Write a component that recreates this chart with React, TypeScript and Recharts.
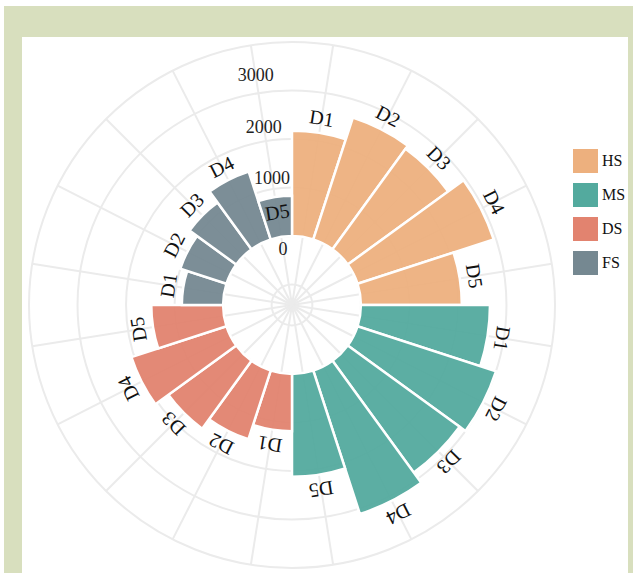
import { RadialBarChart, RadialBar, PolarGrid, PolarAngleAxis, PolarRadiusAxis, Cell, Sector } from "recharts";

const groups = ["HS", "MS", "DS", "FS"];
const dims = ["D1", "D2", "D3", "D4", "D5"];
const hsValues = [2170, 2640, 2560, 2950, 2080];
const msValues = [2660, 3000, 2850, 3110, 2120];
const dsValues = [1180, 1490, 1730, 2060, 1480];
const fsValues = [850, 1000, 1190, 1470, 830];
const radiusTicks = [-1000, 0, 1000, 2000, 3000, 4000];
const shownTicks = [0, 1000, 2000, 3000];

const colors: Record<string, string> = {
  HS: "#EDB07E",
  MS: "#53AA9E",
  DS: "#E2836F",
  FS: "#758891",
};

const valuesByGroup: Record<string, number[]> = { HS: hsValues, MS: msValues, DS: dsValues, FS: fsValues };

const data = groups.flatMap((g) =>
  dims.map((d, i) => ({ id: `${g}-${d}`, group: g, dim: d, value: valuesByGroup[g][i] }))
);

// labels that sit inside their bar instead of beyond the tip
const insideLabels = ["FS-D5"];

const FONT = "'Liberation Serif', 'Times New Roman', serif";
const RAD = Math.PI / 180;
const START = 72;
const STEP = 360 / data.length;
// spokes run through the middle of each bar
const spokeAngles = data.map((_, i) => START + STEP / 2 - STEP * i);

function BarShape(props: any) {
  const { cx, cy, innerRadius, outerRadius, startAngle, endAngle, fill, payload } = props;
  const mid = (startAngle + endAngle) / 2;
  const inside = insideLabels.includes(payload.id);
  const r = inside ? outerRadius - 15 : outerRadius + 15;
  const x = cx + r * Math.cos(-mid * RAD);
  const y = cy + r * Math.sin(-mid * RAD);
  const rot = 90 - mid;
  return (
    <g>
      <Sector
        cx={cx}
        cy={cy}
        innerRadius={innerRadius}
        outerRadius={outerRadius}
        startAngle={startAngle}
        endAngle={endAngle}
        fill={fill}
        fillOpacity={0.95}
        stroke="#ffffff"
        strokeWidth={2.5}
      />
      <text
        x={x}
        y={y}
        transform={`rotate(${rot}, ${x}, ${y})`}
        textAnchor="middle"
        dominantBaseline="central"
        fontFamily={FONT}
        fontSize={20}
        fill="#111"
      >
        {payload.dim}
      </text>
    </g>
  );
}

const tickShift: Record<number, number> = { 0: -12, 1000: 11, 2000: 14, 3000: 18 };

function RadiusTick(props: any) {
  const { payload, cx, cy } = props;
  const v = payload.value;
  if (!shownTicks.includes(v)) return null;
  const r = payload.coordinate + (tickShift[v] ?? 0);
  const a = 99;
  const x = cx + r * Math.cos(-a * RAD);
  const y = cy + r * Math.sin(-a * RAD);
  return (
    <text x={x} y={y} textAnchor="middle" dominantBaseline="central" fontFamily={FONT} fontSize={18} fill="#222">
      {v}
    </text>
  );
}

export default function App() {
  return (
    <div style={{ position: "absolute", left: 0, top: 0, width: 636, height: 573, background: "#fff", overflow: "hidden" }}>
      <div style={{ position: "absolute", left: 4, top: 6, width: 629, height: 580, background: "#D8DFBE" }} />
      <div style={{ position: "absolute", left: 22, top: 37, width: 606, height: 560, background: "#fff" }} />
      <div style={{ position: "absolute", left: 0, top: 0 }}>
        <RadialBarChart
          width={636}
          height={573}
          data={data}
          cx={292}
          cy={305}
          innerRadius={0}
          outerRadius={263}
          startAngle={START}
          endAngle={START - 360}
          layout="centric"
          barCategoryGap="0%"
          margin={{ top: 0, right: 0, bottom: 0, left: 0 }}
        >
          <PolarGrid gridType="circle" stroke="#EBEBEB" strokeWidth={2} polarAngles={spokeAngles} />
          <PolarAngleAxis dataKey="id" type="category" tick={false} axisLine={false} tickLine={false} />
          <PolarRadiusAxis
            type="number"
            domain={[-1420, 4000]}
            allowDataOverflow
            ticks={radiusTicks}
            angle={99}
            axisLine={false}
            tickLine={false}
            tick={<RadiusTick />}
          />
          <RadialBar dataKey="value" isAnimationActive={false} shape={<BarShape />}>
            {data.map((d) => (
              <Cell key={d.id} fill={colors[d.group]} />
            ))}
          </RadialBar>
        </RadialBarChart>
      </div>
      <div style={{ position: "absolute", left: 573, top: 144 }}>
        {groups.map((g) => (
          <div key={g} style={{ display: "flex", alignItems: "center", height: 34 }}>
            <div style={{ width: 25, height: 24, background: colors[g] }} />
            <span style={{ marginLeft: 4, fontFamily: FONT, fontSize: 16, color: "#111" }}>{g}</span>
          </div>
        ))}
      </div>
    </div>
  );
}
